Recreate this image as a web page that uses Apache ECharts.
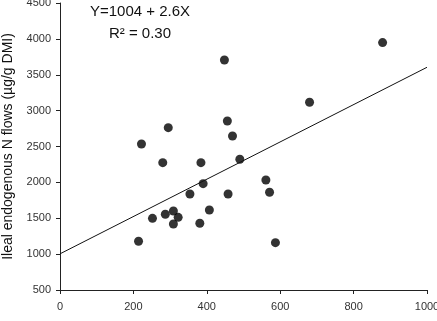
<!DOCTYPE html>
<html>
<head>
<meta charset="utf-8">
<script src="https://cdn.jsdelivr.net/npm/echarts@6/dist/echarts.min.js"></script>
<style>
  html, body { margin: 0; padding: 0; background: #fff; }
  #chart { width: 437px; height: 321px; }
</style>
</head>
<body>
<div id="chart"></div>
<script>
// intake (x) vs ileal endogenous N flow (y)
const xValues = [222, 295, 448, 879, 680, 456, 470, 490, 280, 384, 390, 354, 407, 309, 287, 252, 322, 309, 381, 214, 561, 571, 458, 587];
const yValues = [2535, 2763, 3706, 3948, 3117, 2856, 2647, 2322, 2275, 2275, 1982, 1838, 1615, 1601, 1555, 1499, 1513, 1420, 1430, 1179, 2033, 1862, 1838, 1160];
// regression line endpoints, Y = 1004 + 2.6X
const fitX = [0, 1000];
const fitY = [1004, 3604];

const points = xValues.map((x, i) => [x, yValues[i]]);
const fitLine = fitX.map((x, i) => [x, fitY[i]]);

const chart = echarts.init(document.getElementById('chart'));
const font = 'Liberation Sans, Arial, sans-serif';

chart.setOption({
  animation: false,
  grid: { left: 60, right: 10, top: 3, bottom: 31, outerBoundsMode: 'none', containLabel: false },
  xAxis: {
    type: 'value',
    min: 0,
    max: 1000,
    interval: 200,
    splitLine: { show: false },
    axisLine: { lineStyle: { color: '#222', width: 1 } },
    axisTick: { length: 4, lineStyle: { color: '#222' } },
    axisLabel: { color: '#333', fontSize: 11, fontFamily: font, margin: 11, showMaxLabel: true, formatter: v => String(v) }
  },
  yAxis: {
    type: 'value',
    min: 500,
    max: 4500,
    interval: 500,
    splitLine: { show: false },
    axisLine: { show: true, lineStyle: { color: '#222', width: 1 } },
    axisTick: { show: true, length: 4, lineStyle: { color: '#222' } },
    axisLabel: { color: '#333', fontSize: 11, fontFamily: font, margin: 9, formatter: v => String(v) },
    name: 'Ileal endogenous N flows (µg/g DMI)',
    nameLocation: 'middle',
    nameGap: 42,
    nameTextStyle: { color: '#111', fontSize: 14, fontFamily: font }
  },
  graphic: [
    {
      type: 'text',
      style: { text: 'Y=1004 + 2.6X', x: 140, y: 4, fill: '#111', fontSize: 15, fontFamily: font, textAlign: 'center' }
    },
    {
      type: 'text',
      style: { text: 'R² = 0.30', x: 140, y: 26, fill: '#111', fontSize: 15, fontFamily: font, textAlign: 'center' }
    }
  ],
  series: [
    {
      type: 'line',
      data: fitLine,
      symbol: 'none',
      lineStyle: { color: '#111', width: 1 },
      silent: true
    },
    {
      type: 'scatter',
      data: points,
      symbolSize: 9,
      itemStyle: { color: '#000' }
    }
  ]
});
</script>
</body>
</html>
